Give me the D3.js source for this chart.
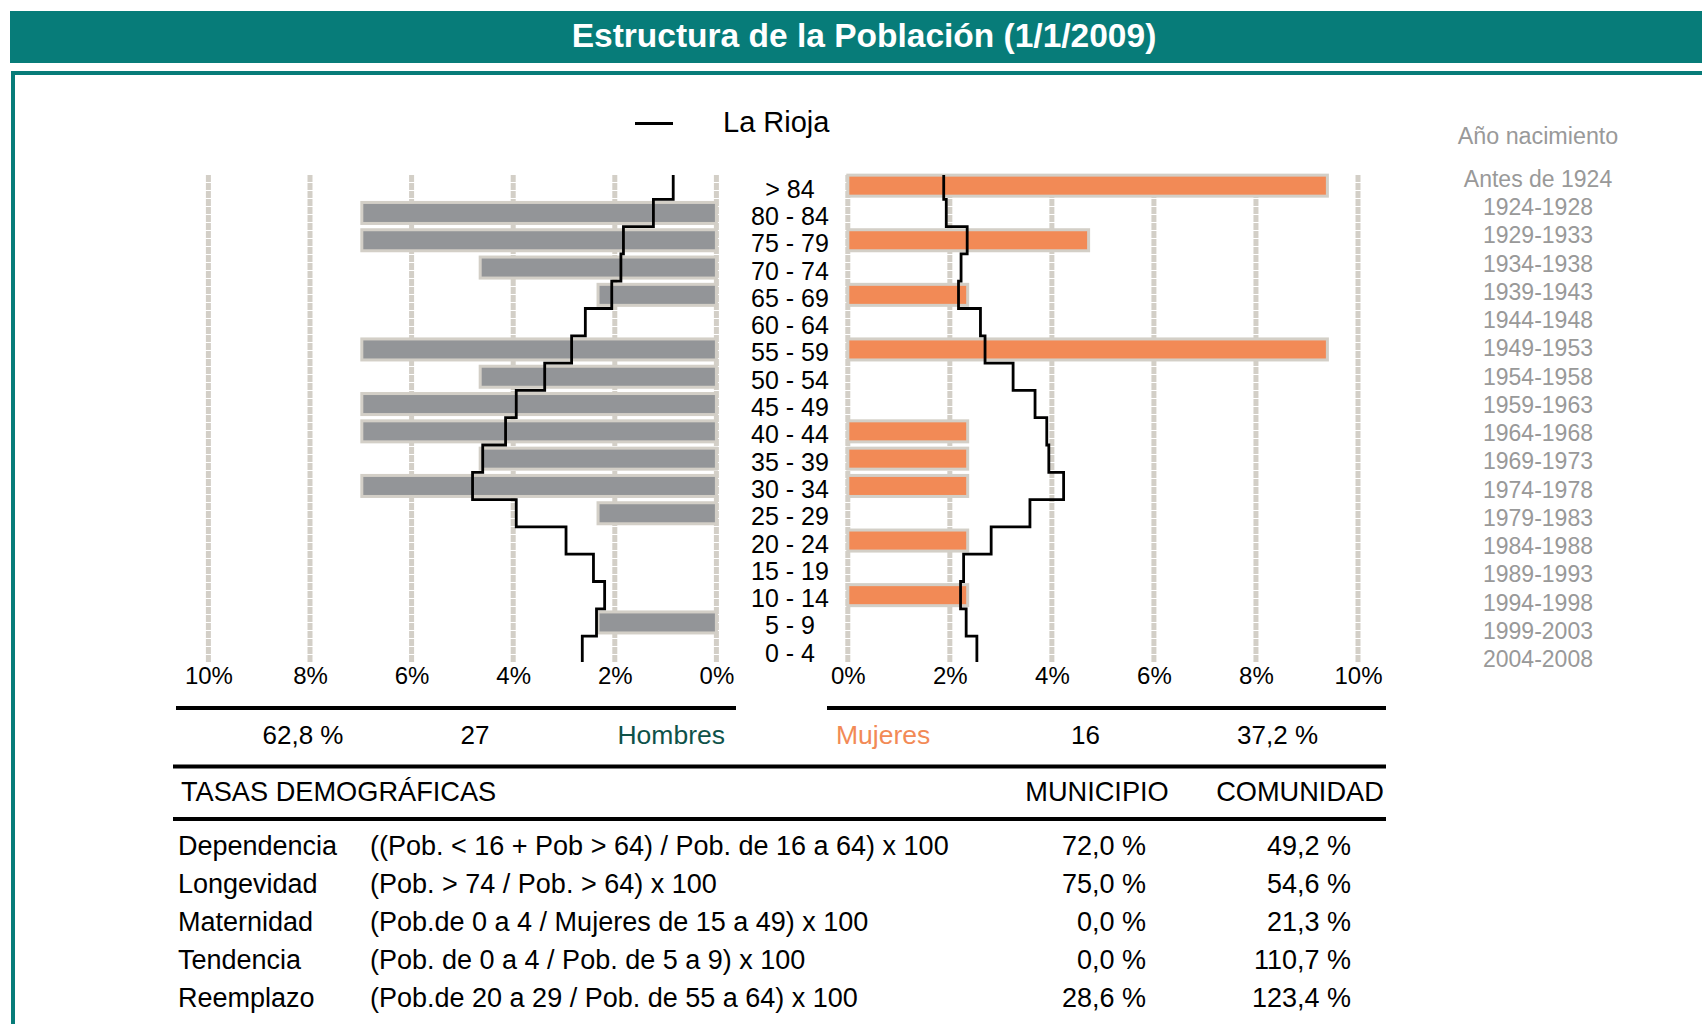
<!DOCTYPE html>
<html>
<head>
<meta charset="utf-8">
<title>Estructura de la Población (1/1/2009)</title>
<script src="https://cdn.jsdelivr.net/npm/d3@7"></script>
<style>
  body { margin: 0; background: #fff; }
  svg { display: block; font-family: "Liberation Sans", Arial, sans-serif; }
</style>
</head>
<body>
<div id="chart"></div>
<script>
// age groups, top to bottom
const ages = ['> 84', '80 - 84', '75 - 79', '70 - 74', '65 - 69', '60 - 64', '55 - 59', '50 - 54',
  '45 - 49', '40 - 44', '35 - 39', '30 - 34', '25 - 29', '20 - 24', '15 - 19', '10 - 14', '5 - 9', '0 - 4'];

// municipio, % of total population
const hombres = [0, 6.98, 6.98, 4.65, 2.33, 0, 6.98, 4.65, 6.98, 6.98, 4.65, 6.98, 2.33, 0, 0, 0, 2.33, 0];
const mujeres = [9.40, 0, 4.72, 0, 2.35, 0, 9.40, 0, 0, 2.35, 2.35, 2.35, 0, 2.35, 0, 2.35, 0, 0];

// La Rioja reference profile (%)
const riojaHombres = [0.85, 1.24, 1.83, 1.88, 2.06, 2.58, 2.85, 3.38, 3.94, 4.15, 4.60, 4.80, 3.94, 2.96, 2.42, 2.20, 2.36, 2.64];
const riojaMujeres = [1.88, 1.93, 2.34, 2.22, 2.17, 2.60, 2.69, 3.24, 3.67, 3.90, 3.94, 4.23, 3.57, 2.81, 2.27, 2.21, 2.32, 2.53];

const anios = ['Antes de 1924', '1924-1928', '1929-1933', '1934-1938', '1939-1943', '1944-1948', '1949-1953',
  '1954-1958', '1959-1963', '1964-1968', '1969-1973', '1974-1978', '1979-1983', '1984-1988', '1989-1993',
  '1994-1998', '1999-2003', '2004-2008'];

const pctTicks = [0, 2, 4, 6, 8, 10];

// totals
const totalHombres = 27, totalMujeres = 16;
const pctHombres = '62,8 %', pctMujeres = '37,2 %';

// tasas demograficas
const tasas = ['Dependencia', 'Longevidad', 'Maternidad', 'Tendencia', 'Reemplazo'];
const formulas = ['((Pob. < 16 + Pob > 64) / Pob. de 16 a 64) x 100', '(Pob. > 74 / Pob. > 64) x 100',
  '(Pob.de 0 a 4 / Mujeres de 15 a 49) x 100', '(Pob. de 0 a 4 / Pob. de 5 a 9) x 100',
  '(Pob.de 20 a 29 / Pob. de 55 a 64) x 100'];
const municipio = ['72,0 %', '75,0 %', '0,0 %', '0,0 %', '28,6 %'];
const comunidad = ['49,2 %', '54,6 %', '21,3 %', '110,7 %', '123,4 %'];

const width = 1702, height = 1024;
const teal = '#077C79';
const gridColor = '#D3CFC7';
const grayBar = '#939598';
const orange = '#F28A56';

const svg = d3.select('#chart').append('svg')
  .attr('width', width)
  .attr('height', height);

// title banner and frame
svg.append('rect').attr('x', 10).attr('y', 11).attr('width', width - 10).attr('height', 52).attr('fill', teal);
svg.append('text')
  .attr('x', 864).attr('y', 47)
  .attr('text-anchor', 'middle')
  .attr('font-size', 33.5).attr('font-weight', 'bold').attr('fill', '#fff')
  .text('Estructura de la Población (1/1/2009)');
svg.append('rect').attr('x', 11).attr('y', 71).attr('width', width - 11).attr('height', 4).attr('fill', teal);
svg.append('rect').attr('x', 11).attr('y', 71).attr('width', 4).attr('height', height - 71).attr('fill', teal);

// scales
const xMen = d3.scaleLinear().domain([0, 10]).range([716.4, 208.4]);
const xWomen = d3.scaleLinear().domain([0, 10]).range([847.8, 1358]);
const y = d3.scaleBand().domain(ages).range([172, 663.4]).paddingInner(0.12).paddingOuter(0.06);
const step = y.step();
const gridTop = 175, gridBottom = 662;

// gridlines
function grid(x) {
  svg.append('g').selectAll('line')
    .data(pctTicks)
    .join('line')
    .attr('x1', d => x(d)).attr('x2', d => x(d))
    .attr('y1', gridTop).attr('y2', gridBottom)
    .attr('stroke', gridColor).attr('stroke-width', 5)
    .attr('stroke-dasharray', '7,1');
}
grid(xMen);
grid(xWomen);

// bars
const barData = ages.map((a, i) => ({ age: a, h: hombres[i], m: mujeres[i] }));

svg.append('g').selectAll('rect')
  .data(barData.filter(d => d.h > 0))
  .join('rect')
  .attr('x', d => xMen(d.h))
  .attr('y', d => y(d.age) + 1.5)
  .attr('width', d => xMen(0) - xMen(d.h))
  .attr('height', y.bandwidth() - 3)
  .attr('fill', grayBar).attr('stroke', gridColor).attr('stroke-width', 3);

svg.append('g').selectAll('rect')
  .data(barData.filter(d => d.m > 0))
  .join('rect')
  .attr('x', xWomen(0))
  .attr('y', d => y(d.age) + 1.5)
  .attr('width', d => xWomen(d.m) - xWomen(0))
  .attr('height', y.bandwidth() - 3)
  .attr('fill', orange).attr('stroke', gridColor).attr('stroke-width', 3);

// La Rioja step lines
function stepPoints(values, x) {
  const pts = [];
  ages.forEach((a, i) => {
    const top = y(a) - (step - y.bandwidth()) / 2;
    pts.push([x(values[i]), Math.max(top, gridTop)]);
    pts.push([x(values[i]), Math.min(top + step, gridBottom)]);
  });
  return pts;
}
const line = d3.line();
[[riojaHombres, xMen], [riojaMujeres, xWomen]].forEach(([vals, x]) => {
  svg.append('path')
    .attr('d', line(stepPoints(vals, x)))
    .attr('fill', 'none').attr('stroke', '#000').attr('stroke-width', 2.8);
});

// age labels
svg.append('g').selectAll('text')
  .data(ages)
  .join('text')
  .attr('x', 790)
  .attr('y', d => y(d) + y.bandwidth() / 2 + 12)
  .attr('text-anchor', 'middle')
  .attr('font-size', 25)
  .attr('xml:space', 'preserve')
  .text(d => d);

// percentage axes
function axis(x) {
  const g = svg.append('g')
    .attr('transform', `translate(0, ${664})`)
    .call(d3.axisBottom(x).tickValues(pctTicks).tickFormat(d => d + '%').tickSize(0).tickPadding(0));
  g.select('.domain').remove();
  g.selectAll('text')
    .attr('font-family', '"Liberation Sans", Arial, sans-serif')
    .attr('font-size', 24).attr('fill', '#000')
    .attr('dy', '0.84em');
}
axis(xMen);
axis(xWomen);

// legend
svg.append('line').attr('x1', 635).attr('x2', 673).attr('y1', 123.5).attr('y2', 123.5)
  .attr('stroke', '#000').attr('stroke-width', 3);
svg.append('text').attr('x', 723).attr('y', 132).attr('font-size', 29).text('La Rioja');

// birth year column
svg.append('text').attr('x', 1538).attr('y', 144).attr('text-anchor', 'middle')
  .attr('font-size', 23.3).attr('fill', '#999').text('Año nacimiento');
const yYear = d3.scalePoint().domain(anios).range([179, 659]);
svg.append('g').selectAll('text')
  .data(anios)
  .join('text')
  .attr('x', 1538)
  .attr('y', d => yYear(d) + 8)
  .attr('text-anchor', 'middle')
  .attr('font-size', 23).attr('fill', '#999')
  .text(d => d);

// rules
function rule(x1, x2, yy) {
  svg.append('line').attr('x1', x1).attr('x2', x2).attr('y1', yy).attr('y2', yy)
    .attr('stroke', '#000').attr('stroke-width', 4);
}
rule(176, 736, 708);
rule(827, 1386, 708);
rule(173, 1386, 766.5);
rule(173, 1386, 819);

// totals row
const totalsY = 744;
svg.append('text').attr('x', 303).attr('y', totalsY).attr('text-anchor', 'middle').attr('font-size', 26).text(pctHombres);
svg.append('text').attr('x', 475).attr('y', totalsY).attr('text-anchor', 'middle').attr('font-size', 26).text(totalHombres);
svg.append('text').attr('x', 725).attr('y', totalsY).attr('text-anchor', 'end').attr('font-size', 26.5)
  .attr('fill', '#0E5249').text('Hombres');
svg.append('text').attr('x', 836).attr('y', totalsY).attr('font-size', 26.5)
  .attr('fill', orange).text('Mujeres');
svg.append('text').attr('x', 1085.5).attr('y', totalsY).attr('text-anchor', 'middle').attr('font-size', 26).text(totalMujeres);
svg.append('text').attr('x', 1277.6).attr('y', totalsY).attr('text-anchor', 'middle').attr('font-size', 26).text(pctMujeres);

// table header
svg.append('text').attr('x', 181).attr('y', 801).attr('font-size', 27.2).text('TASAS DEMOGRÁFICAS');
svg.append('text').attr('x', 1097).attr('y', 801).attr('text-anchor', 'middle').attr('font-size', 27.2).text('MUNICIPIO');
svg.append('text').attr('x', 1300).attr('y', 801).attr('text-anchor', 'middle').attr('font-size', 27.2).text('COMUNIDAD');

// table rows
const yRow = d3.scalePoint().domain(tasas).range([855, 1007]);
const rows = svg.append('g').selectAll('g')
  .data(tasas.map((t, i) => ({ t, f: formulas[i], mu: municipio[i], co: comunidad[i] })))
  .join('g')
  .attr('transform', d => `translate(0, ${yRow(d.t)})`)
  .attr('font-size', 27);
rows.append('text').attr('x', 178).text(d => d.t);
rows.append('text').attr('x', 370).text(d => d.f);
rows.append('text').attr('x', 1146).attr('text-anchor', 'end').text(d => d.mu);
rows.append('text').attr('x', 1351).attr('text-anchor', 'end').text(d => d.co);
</script>
</body>
</html>
